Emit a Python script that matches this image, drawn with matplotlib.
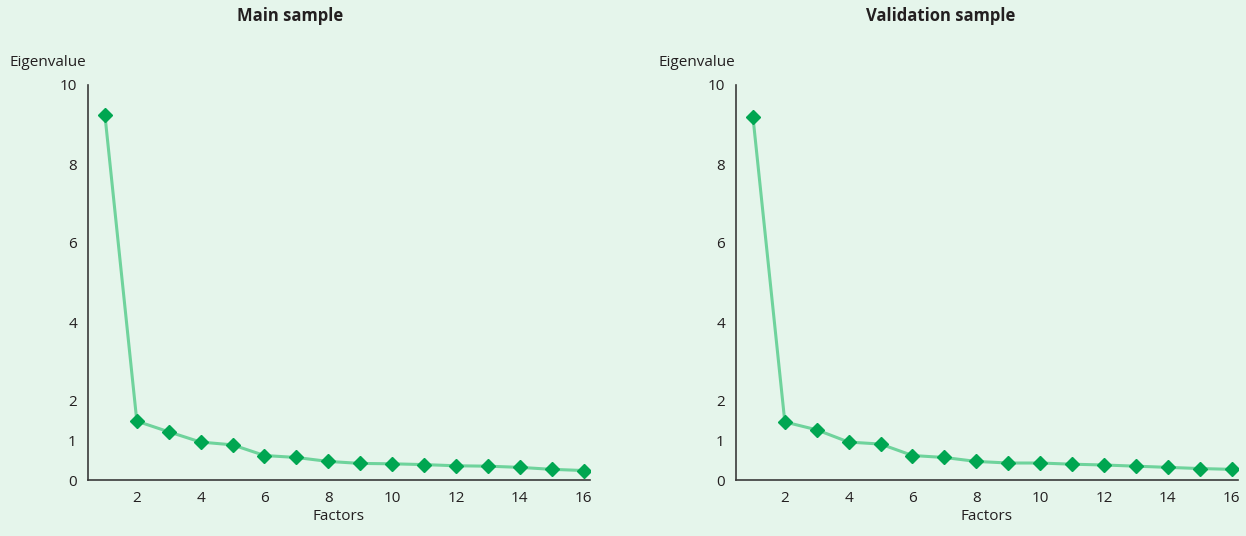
import matplotlib
matplotlib.use("Agg")
import matplotlib.pyplot as plt

factors = list(range(1, 17))
main_eigen = [9.24, 1.49, 1.22, 0.96, 0.89, 0.62, 0.57, 0.47, 0.42, 0.41, 0.39, 0.36, 0.35, 0.32, 0.27, 0.24]
valid_eigen = [9.20, 1.47, 1.27, 0.96, 0.91, 0.62, 0.57, 0.47, 0.43, 0.43, 0.40, 0.38, 0.35, 0.32, 0.29, 0.27]
titles = ["Main sample", "Validation sample"]
yticks = [0, 1, 2, 4, 6, 8, 10]
xticks = [2, 4, 6, 8, 10, 12, 14, 16]

bg = "#e5f5eb"
line_col = "#6fd39c"
marker_col = "#00a651"
text_col = "#231f20"

plt.rcParams["font.family"] = ["Open Sans", "DejaVu Sans"]

fig = plt.figure(figsize=(12.46, 5.36), dpi=100, facecolor=bg)

lefts = [88 / 1246, 736 / 1246]
title_x = [290 / 1246, 941 / 1246]
width = 502 / 1246
bottom = 1 - 480 / 536
height = (480 - 85) / 536

for i, vals in enumerate([main_eigen, valid_eigen]):
    ax = fig.add_axes([lefts[i], bottom, width, height])
    ax.set_facecolor(bg)
    ax.plot(factors, vals, color=line_col, lw=2.2, zorder=2)
    ax.plot(factors, vals, linestyle="none", marker="D", ms=7.5,
            color=marker_col, zorder=3)
    ax.set_xlim(0.47, 16.2)
    ax.set_ylim(0, 10)
    ax.set_yticks(yticks)
    ax.set_xticks(xticks)
    ax.tick_params(length=0, labelsize=11, colors=text_col, pad=8)
    for s in ["top", "right"]:
        ax.spines[s].set_visible(False)
    for s in ["left", "bottom"]:
        ax.spines[s].set_color("#3a3a3a")
        ax.spines[s].set_linewidth(1.2)
    ax.set_xlabel("Factors", fontsize=11, color=text_col, labelpad=2)
    fig.text(lefts[i] - 78 / 1246, 1 - 62 / 536, "Eigenvalue", fontsize=11,
             color=text_col, va="center", ha="left")
    fig.text(title_x[i], 1 - 16 / 536, titles[i], fontsize=12,
             fontweight="bold", color=text_col, ha="center", va="center")

fig.savefig("out.png", dpi=100, facecolor=bg)
